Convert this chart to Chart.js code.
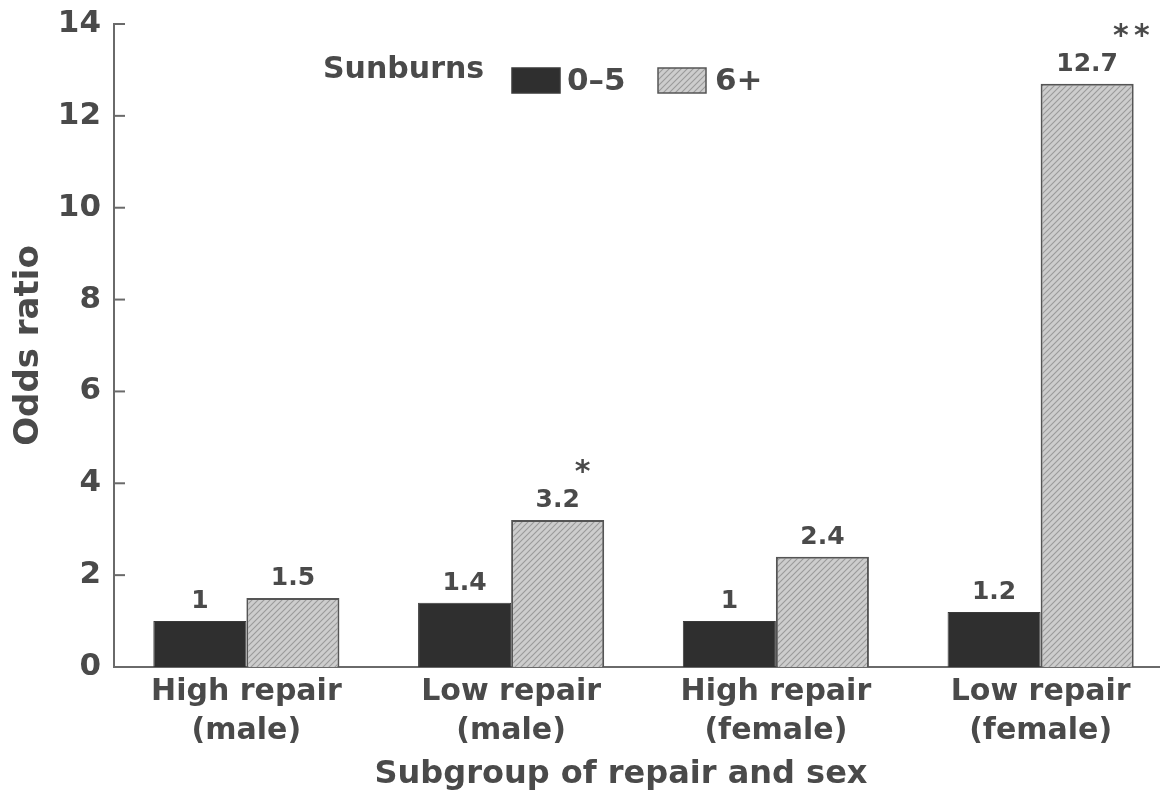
<!DOCTYPE html>
<html><head><meta charset="utf-8">
<script src="https://cdn.jsdelivr.net/npm/chart.js@4.4.0/dist/chart.umd.min.js"></script>
<style>html,body{margin:0;padding:0;background:#fff;overflow:hidden;width:1160px;height:798px}</style></head>
<body><canvas id="c" width="1173" height="798" style="display:block"></canvas>
<script>
const categories = [['High repair','(male)'],['Low repair','(male)'],['High repair','(female)'],['Low repair','(female)']];
const seriesNames = ['0–5','6+'];
const sunburns0to5 = [1, 1.4, 1, 1.2];
const sunburns6plus = [1.5, 3.2, 2.4, 12.7];
const significance6plus = ['', '*', '', '**'];
const yTicks = [0, 2, 4, 6, 8, 10, 12, 14];
const legendTitle = 'Sunburns';
const xTitle = 'Subgroup of repair and sex';
const yTitle = 'Odds ratio';

const TEXT = '#4a4a4a';
const AXIS = '#6a6a6a';
const FONT = 'DejaVu Sans';

function hatch(){
  const p = document.createElement('canvas'); p.width = 6; p.height = 6;
  const g = p.getContext('2d');
  g.fillStyle = '#cdcdcd'; g.fillRect(0,0,6,6);
  g.strokeStyle = '#9a9a9a'; g.lineWidth = 1.1;
  g.beginPath();
  g.moveTo(0,6); g.lineTo(6,0);
  g.moveTo(-3,3); g.lineTo(3,-3);
  g.moveTo(3,9); g.lineTo(9,3);
  g.stroke();
  return g.createPattern(p,'repeat');
}
const hatchPattern = hatch();

const overlay = {
  id: 'overlay',
  afterDatasetsDraw(chart){
    const ctx = chart.ctx, ys = chart.scales.y, area = chart.chartArea;
    ctx.save();
    // inward y ticks
    ctx.strokeStyle = AXIS; ctx.lineWidth = 2;
    yTicks.forEach(v => {
      const py = ys.getPixelForValue(v);
      ctx.beginPath(); ctx.moveTo(area.left, py); ctx.lineTo(area.left + 11, py); ctx.stroke();
    });
    // value labels + significance marks
    ctx.fillStyle = TEXT;
    chart.data.datasets.forEach((ds, i) => {
      chart.getDatasetMeta(i).data.forEach((bar, j) => {
        const t = String(ds.data[j]);
        ctx.font = 'bold 25px "' + FONT + '"';
        ctx.textAlign = 'center'; ctx.textBaseline = 'alphabetic';
        const base = bar.y - 13;
        ctx.fillText(t, bar.x, base);
        if (i === 1 && significance6plus[j]) {
          const w = ctx.measureText(t).width;
          ctx.font = 'bold 30px "' + FONT + '"';
          ctx.textAlign = 'left';
          const marks = significance6plus[j].split('');
          marks.forEach((m, k) => ctx.fillText(m, bar.x + w/2 - 5 + k*21, base - 26));
        }
      });
    });
    // x axis title
    ctx.textAlign = 'center'; ctx.textBaseline = 'middle';
    ctx.font = 'bold 32px "' + FONT + '"';
    ctx.fillText(xTitle, 621, 775);
    // legend
    ctx.textBaseline = 'middle'; ctx.textAlign = 'left';
    ctx.font = 'bold 30px "' + FONT + '"';
    ctx.fillText(legendTitle, 323, 70);
    const boxes = [[512, 567], [658, 715]];
    chart.data.datasets.forEach((ds, i) => {
      const [bx, tx] = boxes[i];
      ctx.fillStyle = ds.backgroundColor;
      ctx.fillRect(bx, 68, 48, 25);
      ctx.strokeStyle = ds.borderColor; ctx.lineWidth = 1.5;
      ctx.strokeRect(bx, 68, 48, 25);
      ctx.fillStyle = TEXT;
      ctx.font = 'bold 31px "' + FONT + '"';
      ctx.fillText(ds.label, tx, 82);
    });
    ctx.restore();
  }
};

new Chart(document.getElementById('c'), {
  type: 'bar',
  data: {
    labels: categories,
    datasets: [
      { label: seriesNames[0], data: sunburns0to5, backgroundColor: '#2f2f2f', borderColor: '#3a3a3a', borderWidth: 1 },
      { label: seriesNames[1], data: sunburns6plus, backgroundColor: hatchPattern, borderColor: '#555555', borderWidth: 2 }
    ]
  },
  options: {
    responsive: false,
    animation: false,
    devicePixelRatio: 1,
    layout: { padding: { left: 0, top: 24, right: 0, bottom: 0 } },
    plugins: { legend: { display: false }, tooltip: { enabled: false } },
    datasets: { bar: { categoryPercentage: 0.703, barPercentage: 1 } },
    scales: {
      x: {
        offset: true,
        grid: { display: false, drawTicks: false },
        border: { color: AXIS, width: 2 },
        ticks: { color: TEXT, font: { family: FONT, weight: 'bold', size: 30, lineHeight: 1.3 }, padding: 6, maxRotation: 0, autoSkip: false },
        title: { display: false, text: xTitle },
        afterFit(s){ s.height = 131; s.paddingLeft = 0; s.paddingRight = 0; }
      },
      y: {
        min: 0, max: 14,
        afterBuildTicks(s){ s.ticks = yTicks.map(v => ({ value: v })); },
        grid: { display: false, drawTicks: false },
        border: { color: AXIS, width: 2 },
        ticks: { color: TEXT, font: { family: FONT, weight: 'bold', size: 31 }, padding: 13 },
        title: { display: true, text: yTitle, color: TEXT, font: { family: FONT, weight: 'bold', size: 34 }, padding: { top: 9, bottom: 0 } },
        afterFit(s){ s.width = 114; s.paddingTop = 0; s.paddingBottom = 0; }
      }
    }
  },
  plugins: [overlay]
});
</script>
</body></html>
